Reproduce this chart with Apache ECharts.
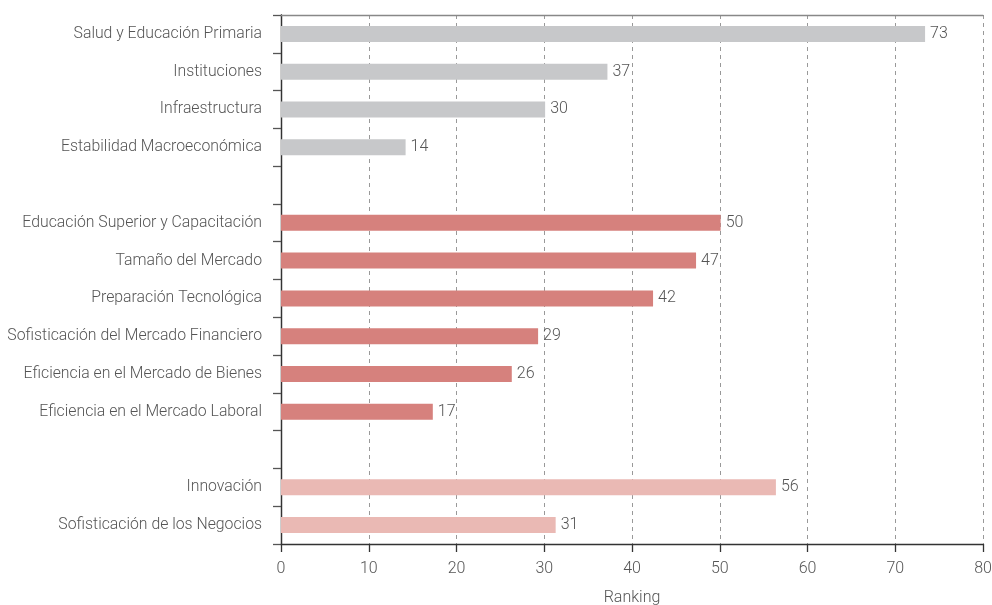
<!DOCTYPE html>
<html><head><meta charset="utf-8">
<script src="https://cdn.jsdelivr.net/npm/echarts@6/dist/echarts.min.js"></script>
<style>html,body{margin:0;padding:0;background:#fff}#c{width:992px;height:605px}</style>
</head><body><div id="c"></div>
<script>
const categories = ["Salud y Educación Primaria","Instituciones","Infraestructura","Estabilidad Macroeconómica","",
  "Educación Superior y Capacitación","Tamaño del Mercado","Preparación Tecnológica","Sofisticación del Mercado Financiero","Eficiencia en el Mercado de Bienes","Eficiencia en el Mercado Laboral","",
  "Innovación","Sofisticación de los Negocios"];
const values = [73.4,37.2,30.1,14.2,null,50.1,47.3,42.4,29.3,26.3,17.3,null,56.4,31.3];
const groups = [0,0,0,0,-1,1,1,1,1,1,1,-1,2,2];
const groupColors = ["#c7c8ca","#d6817d","#eab9b4"];
const xTicks = [0,10,20,30,40,50,60,70,80];
const axisName = "Ranking";

const font = "Roboto, 'Liberation Sans', sans-serif";
const fw = 300;
const chart = echarts.init(document.getElementById('c'), null, {renderer:'canvas'});
chart.setOption({
  animation:false,
  grid:{left:281,right:9,top:15,bottom:61,containLabel:false,outerBoundsMode:'none'},
  xAxis:[{
    type:'value', min:xTicks[0], max:xTicks[xTicks.length-1], interval:10, position:'bottom',
    name:axisName, nameLocation:'middle', nameGap:46,
    nameTextStyle:{color:'#555',fontSize:16,fontFamily:font,fontWeight:fw},
    axisLine:{show:true,lineStyle:{color:'#333',width:1.3}},
    axisTick:{show:true,length:8,lineStyle:{color:'#333',width:1.3}},
    axisLabel:{color:'#555',fontSize:16,fontFamily:font,fontWeight:fw,margin:17},
    splitLine:{show:true,lineStyle:{color:'#999',type:[4,4],width:1}}
  },{
    type:'value', min:xTicks[0], max:xTicks[xTicks.length-1], interval:10, position:'top',
    axisLine:{show:true,lineStyle:{color:'#888',width:1.3}},
    axisTick:{show:false},axisLabel:{show:false},splitLine:{show:false}
  }],
  yAxis:[{
    type:'category', data:categories, inverse:true, position:'left',
    axisLine:{show:true,lineStyle:{color:'#777',width:1.3}},
    axisTick:{show:true,length:8,lineStyle:{color:'#555',width:1.3}},
    axisLabel:{color:'#555',fontSize:15.8,fontFamily:font,fontWeight:fw,margin:19,padding:[2,0,0,0]}
  },{
    type:'category', data:categories, inverse:true, position:'right',
    axisLine:{show:true,lineStyle:{color:'#333',width:1.3}},
    axisTick:{show:false},axisLabel:{show:false}
  }],
  series:[{
    type:'bar', barWidth:16,
    data: values.map((v,i)=> v==null? null : {value:v,itemStyle:{color:groupColors[groups[i]]}}),
    label:{show:true,position:'right',distance:5,color:'#555',fontSize:16,fontFamily:font,fontWeight:fw,
      padding:[2,0,0,0],formatter:p=>Math.round(p.value)}
  }]
});
</script></body></html>
